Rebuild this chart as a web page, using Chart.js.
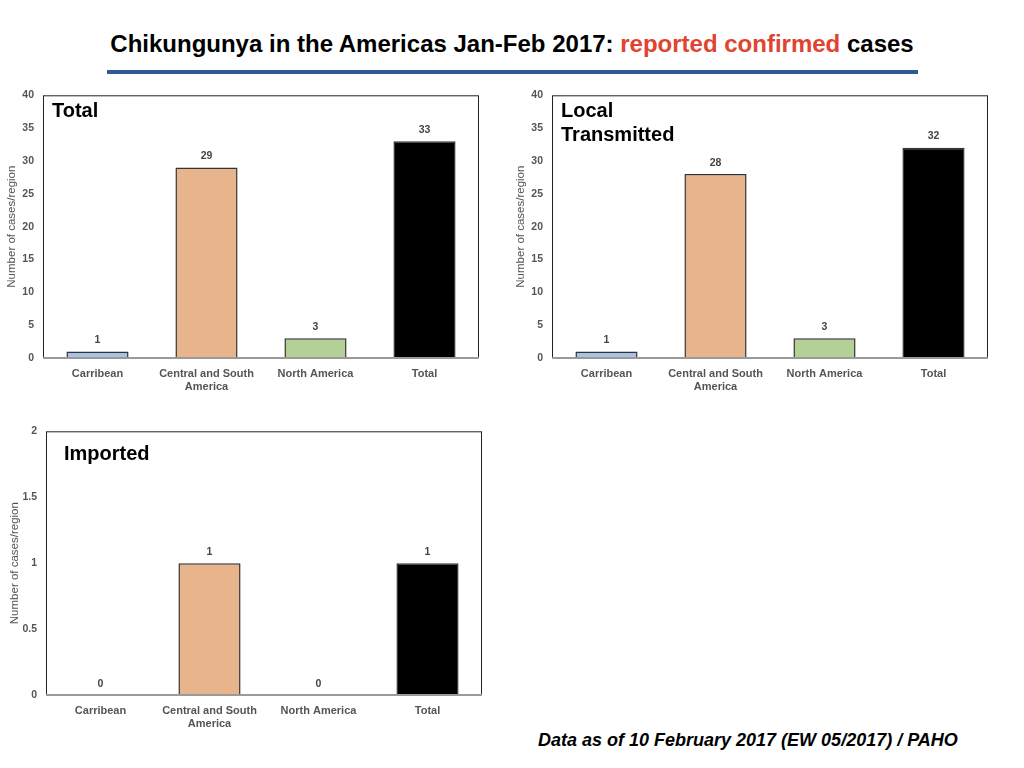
<!DOCTYPE html>
<html>
<head>
<meta charset="utf-8">
<script src="https://cdn.jsdelivr.net/npm/chart.js@4"></script>
<style>
  body { margin: 0; background: #fff; font-family: "Liberation Sans", Arial, sans-serif; }
  .page { position: relative; width: 1024px; height: 768px; overflow: hidden; }
  .title { position: absolute; left: 0; width: 1024px; top: 30px; text-align: center;
           font-weight: bold; font-size: 24px; color: #000; }
  .title span { color: #e0432f; }
  .rule { position: absolute; left: 107px; top: 70px; width: 811px; height: 4px; background: #2e5a96; }
  .foot { position: absolute; left: 538px; top: 730px; font-size: 18px; font-weight: bold; font-style: italic; }
  .box { position: absolute; }
</style>
</head>
<body>
<div class="page">
  <div class="title">Chikungunya in the Americas Jan-Feb 2017: <span>reported confirmed</span> cases</div>
  <div class="rule"></div>
  <div class="box" style="left:0px;top:80px;width:500px;height:315px"><canvas id="totalChart"></canvas></div>
  <div class="box" style="left:509px;top:80px;width:500px;height:315px"><canvas id="localChart"></canvas></div>
  <div class="box" style="left:3px;top:416px;width:500px;height:315px"><canvas id="importedChart"></canvas></div>
  <div class="foot">Data as of 10 February 2017 (EW 05/2017) / PAHO</div>
</div>
<script>
  // Categories and values
  const regions = [["Carribean"], ["Central and South", "America"], ["North America"], ["Total"]];
  const totalCases = [1, 29, 3, 33];
  const localCases = [1, 28, 3, 32];
  const importedCases = [0, 1, 0, 1];
  const barColors = ["#a8c2e4", "#e8b48b", "#b4d097", "#000000"];

  const tickGray = "#555555";
  const fontFamily = "'Liberation Sans', Arial, sans-serif";

  // Value labels above each bar, plus the plot frame and panel label
  const decorPlugin = {
    id: "decor",
    afterDatasetsDraw(chart, args, opts) {
      const ctx = chart.ctx;
      const area = chart.chartArea;
      ctx.save();
      // frame
      ctx.strokeStyle = "#222";
      ctx.lineWidth = 1;
      ctx.strokeRect(area.left + 0.5, area.top + 0.5, area.right - area.left - 1, area.bottom - area.top);
      ctx.strokeStyle = "#9a9a9a";
      ctx.lineWidth = 2;
      ctx.beginPath();
      ctx.moveTo(area.left, area.bottom);
      ctx.lineTo(area.right, area.bottom);
      ctx.stroke();
      // values
      ctx.fillStyle = "#444";
      ctx.font = "bold 10.5px " + fontFamily;
      ctx.textAlign = "center";
      ctx.textBaseline = "bottom";
      const meta = chart.getDatasetMeta(0);
      meta.data.forEach((bar, i) => {
        ctx.fillText(chart.data.datasets[0].data[i], bar.x, bar.y - 6);
      });
      // panel label
      ctx.fillStyle = "#000";
      ctx.font = "bold 20px " + fontFamily;
      ctx.textAlign = "left";
      ctx.textBaseline = "middle";
      opts.label.forEach((line, i) => {
        ctx.fillText(line, area.left + opts.dx, area.top + opts.dy + i * 24);
      });
      ctx.restore();
    }
  };

  function makeChart(id, values, maxY, stepY, label, dx, dy, xHeight) {
    new Chart(document.getElementById(id), {
      type: "bar",
      data: {
        labels: regions,
        datasets: [{
          data: values,
          backgroundColor: barColors,
          borderColor: "#333",
          borderWidth: 1.5,
          barPercentage: 0.57,
          categoryPercentage: 1.0
        }]
      },
      options: {
        responsive: true,
        maintainAspectRatio: false,
        animation: false,
        layout: { padding: { top: 5, right: 21, left: 0, bottom: 0 } },
        plugins: {
          legend: { display: false },
          tooltip: { enabled: false },
          decor: { label: label, dx: dx, dy: dy }
        },
        scales: {
          x: {
            grid: { display: false },
            border: { display: false },
            ticks: {
              color: tickGray,
              font: { size: 11, weight: "bold", family: fontFamily },
              padding: 1,
              maxRotation: 0
            },
            afterFit(scale) { scale.height = xHeight; }
          },
          y: {
            min: 0,
            max: maxY,
            grid: { display: false, drawTicks: false },
            border: { display: false },
            ticks: {
              stepSize: stepY,
              color: tickGray,
              font: { size: 10.5, weight: "bold", family: fontFamily },
              padding: 9,
              callback: (v) => String(v)
            },
            title: {
              display: true,
              text: "Number of cases/region",
              color: tickGray,
              font: { size: 11.5, family: fontFamily },
              padding: { top: 5, bottom: 0 }
            },
            afterFit(scale) { scale.width = 43; }
          }
        }
      },
      plugins: [decorPlugin]
    });
  }

  makeChart("totalChart", totalCases, 40, 5, ["Total"], 9, 16, 37);
  makeChart("localChart", localCases, 40, 5, ["Local", "Transmitted"], 9, 16, 37);
  makeChart("importedChart", importedCases, 2, 0.5, ["Imported"], 18, 23, 36);
</script>
</body>
</html>
